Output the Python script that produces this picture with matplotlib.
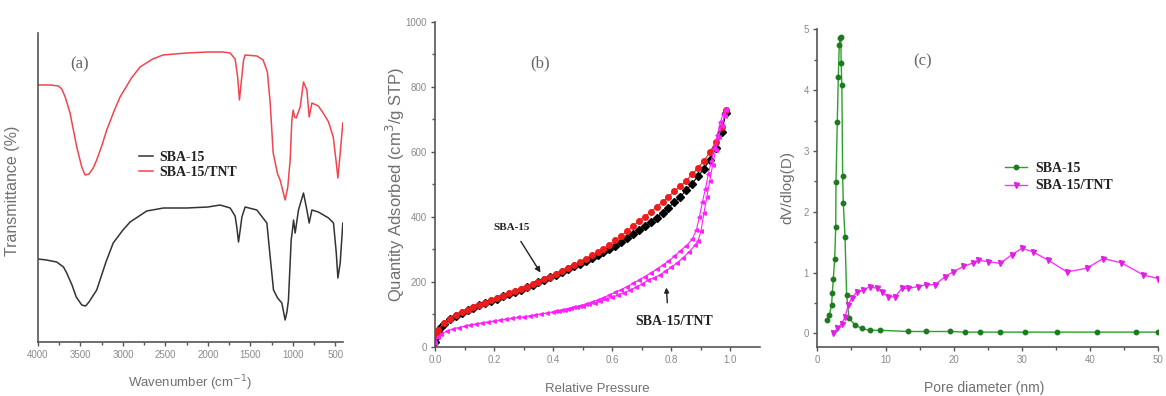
import matplotlib
matplotlib.use('Agg')
import matplotlib.pyplot as plt
import numpy as np

# ---------------- (a) FTIR ----------------
# wavenumber (cm-1) / transmittance (a.u.)
ftir_tnt_wn = [4000, 3850, 3760, 3720, 3680, 3623, 3544, 3485, 3446, 3400, 3350, 3309, 3250, 3191,
               3100, 3034, 2900, 2799, 2650, 2528, 2250, 2000, 1821, 1738, 1680, 1650, 1629, 1605,
               1580, 1562, 1424, 1350, 1300, 1267, 1232, 1180, 1150, 1091, 1060, 1032, 1012, 996,
               980, 961, 914, 875, 835, 808, 776, 700, 643, 580, 525, 490, 470, 443, 412]
ftir_tnt_t = [257, 257, 256, 253, 245, 229, 195, 175, 167, 168, 174, 182, 196, 212,
              232, 245, 264, 275, 283, 287, 289, 290, 290, 289, 283, 265, 242, 262,
              282, 287, 286, 282, 270, 239, 189, 168, 162, 142, 155, 182, 222, 232,
              225, 224, 235, 260, 252, 225, 239, 236, 229, 220, 205, 180, 164, 189, 219]

ftir_sba_wn = [4000, 3900, 3780, 3700, 3662, 3600, 3550, 3485, 3440, 3400, 3309, 3200, 3115, 3000,
               2916, 2720, 2523, 2250, 2000, 1856, 1738, 1680, 1660, 1640, 1620, 1600, 1562, 1424,
               1306, 1267, 1228, 1180, 1130, 1091, 1070, 1052, 1020, 1005, 992, 973, 934, 875,
               835, 808, 776, 700, 640, 580, 522, 490, 470, 443, 412]
ftir_sba_t = [83, 82, 80, 75, 69, 57, 45, 37, 36, 40, 52, 80, 99, 112,
              120, 131, 134, 134, 135, 137, 134, 126, 115, 100, 112, 125, 135, 132,
              119, 85, 52, 44, 39, 22, 30, 42, 102, 112, 122, 109, 132, 149,
              132, 119, 132, 130, 127, 124, 119, 90, 64, 79, 119]

# ---------------- (b) N2 isotherms ----------------
sba_ads_p = [0.0, 0.005, 0.01, 0.02, 0.03, 0.05, 0.07, 0.09, 0.11, 0.13, 0.15, 0.17, 0.19, 0.21,
             0.23, 0.25, 0.27, 0.29, 0.31, 0.33, 0.35, 0.37, 0.39, 0.41, 0.43, 0.45, 0.47, 0.49,
             0.51, 0.53, 0.55, 0.57, 0.59, 0.61, 0.63, 0.65, 0.67, 0.69, 0.71, 0.73, 0.75, 0.77,
             0.79, 0.81, 0.83, 0.85, 0.87, 0.89, 0.91, 0.93, 0.95, 0.97, 0.985]
sba_ads_q = [15, 30, 45, 60, 70, 84, 95, 104, 112, 120, 127, 134, 141, 148,
             155, 162, 169, 176, 183, 190, 198, 206, 214, 222, 230, 238, 247, 256,
             264, 273, 282, 291, 301, 311, 322, 334, 346, 358, 370, 383, 397, 412,
             428, 444, 461, 481, 502, 524, 547, 574, 610, 660, 720]

sba_des_p = [0.985, 0.97, 0.95, 0.93, 0.91, 0.89, 0.87, 0.85, 0.83, 0.81, 0.79, 0.77, 0.75, 0.73,
             0.71, 0.69, 0.67, 0.65, 0.63, 0.61, 0.59, 0.57, 0.55, 0.53, 0.51, 0.49, 0.47, 0.45,
             0.43, 0.41, 0.39, 0.37, 0.35, 0.33, 0.31, 0.29, 0.27, 0.25, 0.23, 0.21, 0.19, 0.17,
             0.15, 0.13, 0.11, 0.09, 0.07, 0.05, 0.03, 0.01, 0.0]
sba_des_q = [728, 675, 630, 598, 572, 550, 530, 511, 494, 478, 462, 446, 430, 415,
             400, 387, 371, 356, 341, 327, 313, 302, 291, 281, 271, 262, 252, 242,
             233, 224, 216, 208, 200, 192, 185, 178, 171, 164, 157, 150, 143, 136,
             129, 122, 114, 106, 97, 86, 74, 52, 35]

tnt_ads_p = [0.0, 0.01, 0.02, 0.04, 0.06, 0.08, 0.10, 0.12, 0.14, 0.16, 0.18, 0.20, 0.22, 0.24,
             0.26, 0.28, 0.30, 0.32, 0.34, 0.36, 0.38, 0.40, 0.42, 0.44, 0.46, 0.48, 0.50, 0.52,
             0.54, 0.56, 0.58, 0.60, 0.62, 0.64, 0.66, 0.68, 0.70, 0.72, 0.74, 0.76, 0.78, 0.80,
             0.82, 0.84, 0.86, 0.88, 0.89, 0.90, 0.91, 0.92, 0.93, 0.94, 0.95, 0.96, 0.97, 0.98, 0.985]
tnt_ads_q = [10, 30, 40, 48, 54, 59, 63, 67, 70, 73, 76, 79, 82, 84,
             87, 90, 92, 95, 98, 101, 104, 107, 110, 114, 118, 122, 126, 130,
             135, 140, 146, 152, 159, 166, 174, 183, 193, 204, 212, 220, 232, 245,
             258, 274, 292, 312, 325, 355, 410, 460, 510, 560, 605, 645, 680, 710, 728]

tnt_des_p = [0.985, 0.975, 0.965, 0.955, 0.945, 0.935, 0.925, 0.915, 0.905, 0.895, 0.885, 0.87,
             0.85, 0.83, 0.81, 0.79, 0.77, 0.75, 0.73, 0.71, 0.69, 0.67, 0.65, 0.63, 0.61, 0.59,
             0.57, 0.55, 0.53, 0.51, 0.49, 0.47, 0.45, 0.43, 0.41]
tnt_des_q = [732, 715, 690, 650, 610, 570, 530, 485, 445, 400, 360, 330,
             310, 295, 278, 263, 250, 238, 227, 216, 205, 195, 185, 176, 167, 159,
             151, 144, 137, 131, 126, 121, 117, 113, 109]

# ---------------- (c) pore size distribution ----------------
psd_sba_d = [1.37, 1.76, 2.1, 2.2, 2.35, 2.55, 2.7, 2.74, 2.93, 3.08, 3.22, 3.35, 3.45, 3.5, 3.6,
             3.72, 3.81, 4.06, 4.3, 4.65, 5.5, 6.5, 7.7, 9.2, 13.3, 16.0, 19.5, 21.6, 23.9, 26.8,
             30.5, 35.2, 41.0, 46.8, 50.0]
psd_sba_v = [0.22, 0.30, 0.47, 0.66, 0.90, 1.23, 1.75, 2.49, 3.48, 4.22, 4.75, 4.85, 4.88, 4.44, 4.08,
             2.58, 2.14, 1.59, 0.63, 0.25, 0.14, 0.08, 0.05, 0.05, 0.03, 0.03, 0.03, 0.02, 0.02, 0.02,
             0.02, 0.02, 0.02, 0.02, 0.02]

psd_tnt_d = [2.35, 2.93, 3.57, 4.06, 4.55, 5.04, 5.78, 6.75, 7.73, 8.7, 9.44, 10.4, 11.4, 12.4,
             13.3, 14.8, 16.0, 17.3, 18.7, 19.9, 21.4, 22.9, 23.6, 25.1, 26.8, 28.5, 30.0, 31.6,
             33.9, 36.6, 39.5, 41.9, 44.6, 47.8, 50.0]
psd_tnt_v = [0.0, 0.08, 0.16, 0.27, 0.47, 0.58, 0.68, 0.71, 0.77, 0.74, 0.68, 0.60, 0.60, 0.74,
             0.74, 0.77, 0.80, 0.80, 0.93, 1.01, 1.10, 1.16, 1.20, 1.18, 1.15, 1.29, 1.40, 1.34,
             1.20, 1.01, 1.07, 1.23, 1.16, 0.96, 0.90]

W, H = 1166, 396
fig = plt.figure(figsize=(W / 100, H / 100), dpi=100)

tick_col = '#8a8a8a'
spine_col = '#555555'
lab_col = '#707070'
lab_font = 'Liberation Sans'
ser_font = 'Liberation Serif'


def px_axes(l, r, b, t):
    # axes from pixel box
    return fig.add_axes([l / W, 1 - b / H, (r - l) / W, (b - t) / H])


def style(ax):
    for s in ['top', 'right']:
        ax.spines[s].set_visible(False)
    for s in ['left', 'bottom']:
        ax.spines[s].set_color(spine_col)
        ax.spines[s].set_linewidth(1.2)
    ax.tick_params(which='major', direction='out', length=3, width=1, color=spine_col,
                   labelsize=7, labelcolor=tick_col, pad=3)
    ax.tick_params(which='minor', direction='out', length=2, width=1, color=spine_col)
    for lab in ax.get_xticklabels() + ax.get_yticklabels():
        lab.set_family(lab_font)


# (a)
ax_a = px_axes(38, 343, 342, 33)
ax_a.plot(ftir_sba_wn, ftir_sba_t, color='#333333', lw=1.1, label='SBA-15')
ax_a.plot(ftir_tnt_wn, ftir_tnt_t, color='#f0454f', lw=1.1, label='SBA-15/TNT')
ax_a.set_xlim(4000, 410)
ax_a.set_ylim(0, 309)
ax_a.set_xticks(np.arange(4000, 400, -500))
ax_a.set_xticks(np.arange(3750, 400, -500), minor=True)
ax_a.set_yticks([])
style(ax_a)
ax_a.set_xlabel('Wavenumber (cm$^{-1}$)', family=lab_font, fontsize=9.5, color=lab_col)
ax_a.xaxis.set_label_coords(0.5, -0.101)
ax_a.set_ylabel('Transmittance (%)', family=lab_font, fontsize=11.5, color=lab_col)
ax_a.yaxis.set_label_coords(-0.058, 0.49)
ax_a.text(0.137, 0.9, '(a)', transform=ax_a.transAxes, family=ser_font, fontsize=12,
          color='#666666', ha='center', va='center')
leg = ax_a.legend(loc='upper left', bbox_to_anchor=(0.31, 0.64), frameon=False,
                  prop={'family': ser_font, 'size': 10, 'weight': 'bold'},
                  handlelength=1.0, handletextpad=0.4, labelspacing=0.1, borderpad=0)
for t in leg.get_texts():
    t.set_color('#222222')

# (b)
ax_b = px_axes(435, 760, 346.7, 21.7)
ax_b.plot(sba_ads_p, sba_ads_q, color='black', lw=0.8, marker='D', ms=3.6)
ax_b.plot(sba_des_p, sba_des_q, color='#ee1c1c', lw=0.8, marker='o', ms=4)
ax_b.plot(tnt_ads_p, tnt_ads_q, color='#ff22ff', lw=0.8, marker='<', ms=2.6)
ax_b.plot(tnt_des_p, tnt_des_q, color='#ff22ff', lw=0.8, marker='<', ms=2.6)
ax_b.set_xlim(0, 1.1)
ax_b.set_ylim(0, 1000)
ax_b.set_xticks(np.arange(0, 1.01, 0.2))
ax_b.set_xticks(np.arange(0.1, 1.1, 0.2), minor=True)
ax_b.set_yticks(np.arange(0, 1001, 200))
ax_b.set_yticks(np.arange(100, 1000, 200), minor=True)
style(ax_b)
ax_b.set_xlabel('Relative Pressure', family=lab_font, fontsize=9.5, color=lab_col)
ax_b.xaxis.set_label_coords(0.5, -0.113)
ax_b.set_ylabel('Quantity Adsorbed (cm$^3$/g STP)', family=lab_font, fontsize=12, color=lab_col)
ax_b.yaxis.set_label_coords(-0.085, 0.5)
ax_b.text(0.324, 0.873, '(b)', transform=ax_b.transAxes, family=ser_font, fontsize=12,
          color='#666666', ha='center', va='center')
ax_b.annotate('SBA-15', xy=(0.357, 228), xytext=(0.26, 368), family=ser_font, fontsize=8,
              fontweight='bold', color='#222222', ha='center', va='center',
              arrowprops=dict(arrowstyle='-|>', color='#222222', lw=1, shrinkA=6, shrinkB=0,
                              mutation_scale=8))
ax_b.annotate('SBA-15/TNT', xy=(0.783, 182), xytext=(0.81, 77), family=ser_font, fontsize=10,
              fontweight='bold', color='#222222', ha='center', va='center',
              arrowprops=dict(arrowstyle='-|>', color='#222222', lw=1, shrinkA=7, shrinkB=0,
                              mutation_scale=7, relpos=(0.42, 1.0)))

# (c)
ax_c = px_axes(817.3, 1158.3, 346.7, 29.3)
ax_c.plot(psd_sba_d, psd_sba_v, color='#2ca02c', lw=1, marker='o', ms=3.2,
          mfc='#1e7a1e', mec='#1e7a1e', label='SBA-15')
ax_c.plot(psd_tnt_d, psd_tnt_v, color='#ff33ff', lw=1, marker='v', ms=3.6,
          mfc='#e020e0', mec='#e020e0', label='SBA-15/TNT')
ax_c.set_xlim(0, 50)
ax_c.set_ylim(-0.22, 5.0)
ax_c.set_xticks(np.arange(0, 51, 10))
ax_c.set_xticks(np.arange(5, 50, 10), minor=True)
ax_c.set_yticks(np.arange(0, 5.1, 1))
ax_c.set_yticks(np.arange(0.5, 5, 1), minor=True)
style(ax_c)
ax_c.set_xlabel('Pore diameter (nm)', family=lab_font, fontsize=10, color=lab_col)
ax_c.xaxis.set_label_coords(0.49, -0.109)
ax_c.set_ylabel('dV/dlog(D)', family=lab_font, fontsize=11, color=lab_col)
ax_c.yaxis.set_label_coords(-0.068, 0.5)
ax_c.text(0.31, 0.9, '(c)', transform=ax_c.transAxes, family=ser_font, fontsize=12,
          color='#666666', ha='center', va='center')
leg_c = ax_c.legend(loc='upper left', bbox_to_anchor=(0.53, 0.605), frameon=False,
                    prop={'family': ser_font, 'size': 10, 'weight': 'bold'},
                    handlelength=1.6, handletextpad=0.6, labelspacing=0.35, borderpad=0)
for t in leg_c.get_texts():
    t.set_color('#222222')

plt.savefig('out.png', dpi=100)
